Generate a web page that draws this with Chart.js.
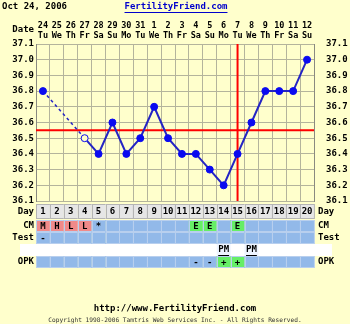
<!DOCTYPE html>
<html>
<head>
<meta charset="utf-8">
<script src="https://cdn.jsdelivr.net/npm/chart.js@4/dist/chart.umd.min.js"></script>
<style>
  body { margin: 0; background: #ffffcc; }
  #wrap { width: 350px; height: 324px; }
</style>
</head>
<body>
<div id="wrap"><canvas id="myChart" width="350" height="324"></canvas></div>
<script>
// chart data
const days = ['1','2','3','4','5','6','7','8','9','10','11','12','13','14','15','16','17','18','19','20'];
const dates = ['24','25','26','27','28','29','30','31','1','2','3','4','5','6','7','8','9','10','11','12'];
const weekdays = ['Tu','We','Th','Fr','Sa','Su','Mo','Tu','We','Th','Fr','Sa','Su','Mo','Tu','We','Th','Fr','Sa','Su'];
const temps = [36.8, null, null, 36.5, 36.4, 36.6, 36.4, 36.5, 36.7, 36.5, 36.4, 36.4, 36.3, 36.2, 36.4, 36.6, 36.8, 36.8, 36.8, 37.0];
const discarded = [false, false, false, true, false, false, false, false, false, false, false, false, false, false, false, false, false, false, false, false];
const coverline = 36.55;
const ovulationDay = 15;
const cm = ['M','H','L','L','*','','','','','','','E','E','','E','','','','',''];
const tests = ['-','','','','','','','','','','','','','','','','','','',''];
const opkTime = ['','','','','','','','','','','','','','PM','','PM','','','',''];
const opk = ['','','','','','','','','','','','-','-','+','+','','','','',''];
const yTicks = { min: 36.1, max: 37.1, step: 0.1 };

const MONO = '"DejaVu Sans Mono", monospace';
const BLUE_CELL = '#92b9e9';
const PINK = '#f08a8a';
const GREEN = '#66ee66';

function cellColor(v) {
    if (v === 'M' || v === 'H' || v === 'L') return PINK;
    if (v === 'E' || v === '+') return GREEN;
    return BLUE_CELL;
}

const tablePlugin = {
    id: 'ffTable',
    beforeDatasetsDraw(chart) {
        const c = chart.ctx, a = chart.chartArea;
        const xs = chart.scales.x, ys = chart.scales.y;
        c.save();
        c.strokeStyle = '#ff0000';
        c.lineWidth = 2;
        const yc = ys.getPixelForValue(coverline);
        c.beginPath(); c.moveTo(a.left, yc); c.lineTo(a.right, yc); c.stroke();
        const xo = xs.getPixelForValue(ovulationDay - 1);
        c.beginPath(); c.moveTo(xo, a.top); c.lineTo(xo, a.bottom); c.stroke();
        c.restore();
    },
    afterDraw(chart) {
        const c = chart.ctx, a = chart.chartArea;
        const xs = chart.scales.x;
        const w = xs.getPixelForValue(1) - xs.getPixelForValue(0);
        c.save();
        c.font = 'bold 9px ' + MONO;
        c.textBaseline = 'middle';

        // header
        c.fillStyle = '#000';
        c.textAlign = 'left';
        c.fillText('Oct 24, 2006', 2, 7);
        c.fillStyle = '#0000cc';
        c.textAlign = 'center';
        c.fillText('FertilityFriend.com', 176, 7);
        const hw = c.measureText('FertilityFriend.com').width;
        c.fillRect(176 - hw / 2, 12, hw, 1);
        c.fillStyle = '#000';
        c.textAlign = 'right';
        c.fillText('Date', 34, 30);

        function row(top, h, vals, colorFn, border, label) {
            for (let i = 0; i < days.length; i++) {
                const x0 = xs.getPixelForValue(i) - w / 2;
                c.fillStyle = colorFn(vals[i], i);
                c.fillRect(x0, top, w, h);
                c.strokeStyle = border;
                c.lineWidth = 1;
                c.strokeRect(Math.round(x0) + 0.5, top + 0.5, w, h - 1);
            }
            c.fillStyle = '#000';
            for (let i = 0; i < days.length; i++) {
                if (vals[i]) {
                    c.textAlign = 'center';
                    c.fillText(vals[i], xs.getPixelForValue(i), top + h / 2 + 0.5);
                }
            }
            if (label) {
                c.textAlign = 'right';
                c.fillText(label, a.left - 2, top + h / 2);
                c.textAlign = 'left';
                c.fillText(label, a.right + 4, top + h / 2);
            }
        }

        const b = a.bottom;
        row(b + 3, 15, days, () => '#e6e6e6', '#b4b4b4', 'Day');
        row(b + 19, 12, cm, cellColor, '#b8cfee', 'CM');
        row(b + 31, 12, tests, cellColor, '#b8cfee', 'Test');

        // white time band
        c.fillStyle = '#ffffff';
        c.fillRect(20, b + 43, 312, 12);
        c.fillStyle = '#000';
        for (let i = 0; i < days.length; i++) {
            if (opkTime[i]) {
                const cx = xs.getPixelForValue(i);
                c.fillStyle = '#eef4ff';
                c.fillRect(cx - w / 2, b + 43, w, 12);
                c.fillStyle = '#000';
                c.textAlign = 'center';
                c.fillText(opkTime[i], cx, b + 49);
                const tw = c.measureText(opkTime[i]).width;
                c.fillRect(cx - tw / 2, b + 54, tw, 1);
            }
        }
        row(b + 55, 12, opk, cellColor, '#b8cfee', 'OPK');

        // footer
        c.textAlign = 'center';
        c.fillStyle = '#000';
        c.fillText('http://www.FertilityFriend.com', 175, 309);
        c.font = '6.2px ' + MONO;
        c.fillStyle = '#333';
        c.fillText('Copyright 1998-2006 Tamtris Web Services Inc. - All Rights Reserved.', 175, 320);
        c.restore();
    }
};

const tickFont = { family: MONO, size: 9, weight: 'bold' };

new Chart(document.getElementById('myChart'), {
    type: 'line',
    data: {
        labels: days,
        datasets: [{
            data: temps,
            spanGaps: true,
            borderColor: '#2424c4',
            borderWidth: 2,
            pointRadius: 3.5,
            pointBorderWidth: 1,
            pointBackgroundColor: discarded.map(d => d ? '#ffffcc' : '#0a0af0'),
            pointBorderColor: '#0a0af0',
            segment: {
                // the gap before the discarded reading is drawn dashed
                borderDash: ctx => ctx.p1DataIndex <= 3 ? [3, 3] : undefined,
                borderWidth: ctx => ctx.p1DataIndex <= 3 ? 1.5 : undefined
            }
        }]
    },
    options: {
        responsive: false,
        animation: false,
        layout: { padding: { top: 0, bottom: 123, left: 0, right: 0 } },
        plugins: { legend: { display: false }, tooltip: { enabled: false } },
        scales: {
            x: {
                type: 'category',
                position: 'top',
                offset: true,
                grid: { offset: true, color: '#b4b49c', drawTicks: false },
                border: { display: false },
                ticks: {
                    font: { family: MONO, size: 8.5, weight: 'bold' },
                    color: '#000',
                    padding: 3,
                    maxRotation: 0,
                    autoSkip: false,
                    callback: (v, i) => [dates[i], weekdays[i]]
                },
                afterFit: s => { s.height = 44; }
            },
            y: {
                position: 'left',
                min: yTicks.min,
                max: yTicks.max,
                grid: { color: '#b4b49c', drawTicks: false },
                border: { color: '#8a8a80' },
                ticks: {
                    stepSize: yTicks.step,
                    font: tickFont,
                    color: '#000',
                    padding: 2,
                    callback: v => v.toFixed(1)
                },
                afterFit: s => { s.width = 36; }
            },
            y2: {
                position: 'right',
                min: yTicks.min,
                max: yTicks.max,
                grid: { display: false },
                border: { color: '#8a8a80' },
                ticks: {
                    stepSize: yTicks.step,
                    font: tickFont,
                    color: '#000',
                    padding: 4,
                    callback: v => v.toFixed(1)
                },
                afterFit: s => { s.width = 36; }
            }
        }
    },
    plugins: [tablePlugin]
});
</script>
</body>
</html>
